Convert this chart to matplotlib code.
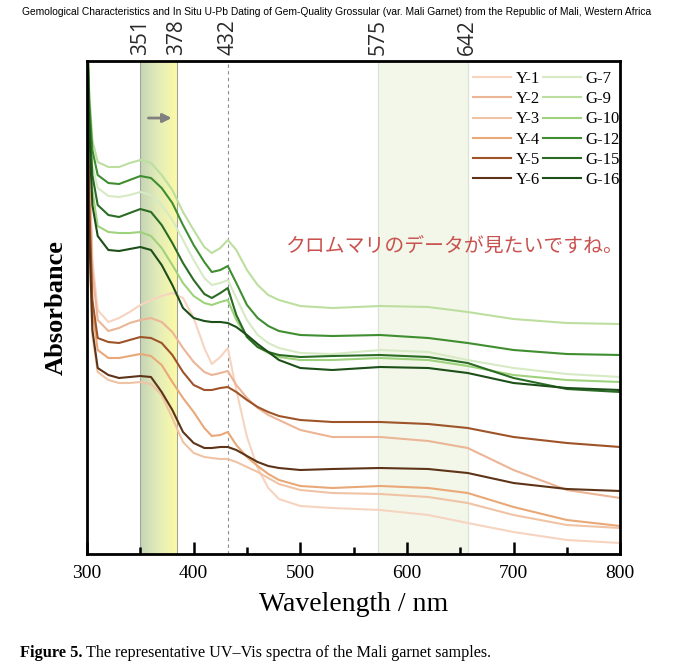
import numpy as np
import matplotlib
matplotlib.use("Agg")
import matplotlib.pyplot as plt
import matplotlib.transforms as mtransforms
from matplotlib.colors import LinearSegmentedColormap

# ---------------- data ----------------
wavelength = [300, 302, 305, 310, 320, 330, 340, 350, 360, 370, 380, 390, 400, 410, 417,
              425, 432, 440, 450, 460, 470, 480, 500, 530, 575, 620, 657, 700, 750, 800]

Y1 = [5.34, 4.04, 2.94, 2.44, 2.32, 2.36, 2.42, 2.49, 2.54, 2.58, 2.61, 2.56, 2.36, 2.06, 1.90,
      1.97, 2.06, 1.64, 1.17, 0.86, 0.66, 0.55, 0.48, 0.46, 0.44, 0.39, 0.31, 0.22, 0.14, 0.11]
Y2 = [5.34, 3.94, 2.84, 2.34, 2.23, 2.26, 2.31, 2.34, 2.36, 2.32, 2.22, 2.06, 1.92, 1.82, 1.79,
      1.81, 1.83, 1.69, 1.56, 1.46, 1.39, 1.34, 1.24, 1.17, 1.17, 1.13, 1.06, 0.84, 0.64, 0.56]
Y3 = [5.34, 3.19, 2.19, 1.82, 1.74, 1.71, 1.71, 1.72, 1.70, 1.59, 1.36, 1.12, 1.01, 0.97, 0.96,
      0.95, 0.95, 0.92, 0.87, 0.82, 0.76, 0.70, 0.64, 0.61, 0.60, 0.57, 0.51, 0.39, 0.29, 0.26]
Y4 = [5.34, 3.44, 2.44, 2.04, 1.96, 1.96, 1.98, 2.00, 1.98, 1.89, 1.72, 1.56, 1.42, 1.26, 1.18,
      1.19, 1.22, 1.09, 0.97, 0.88, 0.80, 0.74, 0.68, 0.66, 0.68, 0.66, 0.61, 0.47, 0.34, 0.28]
Y5 = [5.34, 3.54, 2.54, 2.16, 2.12, 2.11, 2.14, 2.17, 2.16, 2.11, 1.99, 1.82, 1.69, 1.64, 1.64,
      1.66, 1.67, 1.62, 1.54, 1.47, 1.42, 1.38, 1.34, 1.32, 1.32, 1.30, 1.26, 1.17, 1.11, 1.07]
Y6 = [5.34, 3.24, 2.24, 1.86, 1.79, 1.76, 1.77, 1.78, 1.77, 1.62, 1.44, 1.22, 1.11, 1.06, 1.06,
      1.07, 1.07, 1.04, 0.98, 0.92, 0.88, 0.86, 0.84, 0.85, 0.86, 0.85, 0.81, 0.71, 0.65, 0.63]

G7 = [5.34, 4.44, 3.89, 3.66, 3.58, 3.57, 3.59, 3.62, 3.59, 3.49, 3.34, 3.14, 2.94, 2.76, 2.69,
      2.71, 2.74, 2.56, 2.34, 2.19, 2.11, 2.06, 2.01, 2.00, 2.04, 2.02, 1.94, 1.86, 1.80, 1.77]
G9 = [5.34, 4.64, 4.14, 3.92, 3.87, 3.87, 3.91, 3.94, 3.91, 3.79, 3.64, 3.42, 3.24, 3.07, 3.01,
      3.06, 3.14, 3.04, 2.84, 2.69, 2.59, 2.54, 2.48, 2.46, 2.48, 2.47, 2.42, 2.35, 2.31, 2.30]
G10 = [5.34, 4.29, 3.64, 3.28, 3.22, 3.21, 3.21, 3.22, 3.18, 3.06, 2.89, 2.71, 2.58, 2.51, 2.49,
       2.52, 2.54, 2.34, 2.17, 2.07, 2.01, 1.97, 1.94, 1.94, 1.96, 1.94, 1.88, 1.79, 1.74, 1.72]
G12 = [5.34, 4.54, 4.04, 3.79, 3.71, 3.70, 3.74, 3.78, 3.76, 3.66, 3.51, 3.29, 3.09, 2.92, 2.82,
       2.84, 2.88, 2.71, 2.49, 2.36, 2.28, 2.23, 2.19, 2.18, 2.19, 2.16, 2.11, 2.04, 2.00, 1.99]
G15 = [5.34, 4.39, 3.79, 3.49, 3.39, 3.37, 3.41, 3.45, 3.42, 3.29, 3.11, 2.91, 2.74, 2.60, 2.56,
       2.61, 2.66, 2.39, 2.17, 2.07, 2.02, 1.99, 1.97, 1.98, 1.99, 1.97, 1.91, 1.76, 1.65, 1.62]
G16 = [5.34, 4.24, 3.49, 3.18, 3.04, 3.03, 3.05, 3.07, 3.04, 2.89, 2.69, 2.46, 2.36, 2.33, 2.32,
       2.32, 2.31, 2.27, 2.19, 2.10, 2.02, 1.94, 1.86, 1.84, 1.87, 1.86, 1.81, 1.71, 1.66, 1.64]

series_labels = ["Y-1", "Y-2", "Y-3", "Y-4", "Y-5", "Y-6",
                 "G-7", "G-9", "G-10", "G-12", "G-15", "G-16"]
series_values = [Y1, Y2, Y3, Y4, Y5, Y6, G7, G9, G10, G12, G15, G16]
series_colors = ["#f6d4c0", "#ebb596", "#f0c3a5", "#e9a877", "#9e5329", "#5d3418",
                 "#d6eac4", "#bcdf9f", "#9fd27c", "#3f8e30", "#2b6c24", "#1d4f18"]

band_uv = (350, 384)          # shaded gradient band
band_vis = (573, 657)         # light green band
marker_line = 432             # dashed line
top_ticks = [350, 384, 432, 573, 657]
top_labels = ["351", "378", "432", "575", "642"]
x_ticks = [300, 400, 500, 600, 700, 800]
x_minor = [350, 450, 550, 650, 750]
y_range = (0, 4.93)
note_text = "クロムマリのデータが見たいですね。"
title_text = ("Gemological Characteristics and In Situ U-Pb Dating of Gem-Quality Grossular "
              "(var. Mali Garnet) from the Republic of Mali, Western Africa")

# ---------------- figure ----------------
fig = plt.figure(figsize=(6.8, 6.72), dpi=100)
ax = fig.add_axes([0.128, 0.1756, 0.784, 0.7336])

serif = ["Liberation Serif", "DejaVu Serif"]

# gradient band
cmap = LinearSegmentedColormap.from_list("band", ["#c4d5b5", "#e4edb9", "#fcfaa6"])
ax.imshow(np.linspace(0, 1, 256).reshape(1, -1), cmap=cmap, aspect="auto",
          extent=[band_uv[0], band_uv[1], y_range[0], y_range[1]], zorder=0.5)
for xe in band_uv:
    ax.axvline(xe, color="#a0a49a", lw=0.8, zorder=0.6)
ax.axvspan(band_vis[0], band_vis[1], color="#f2f7ea", zorder=0.4, lw=0)
for xe in band_vis:
    ax.axvline(xe, color="#dde2d6", lw=0.9, zorder=0.6)
ax.axvline(marker_line, color="#8a8a8a", lw=0.8, ls=(0, (3, 3)), zorder=0.7)

handles = []
for lab, vals, col in zip(series_labels, series_values, series_colors):
    h, = ax.plot(wavelength, vals, color=col, lw=1.5, label=lab, zorder=2,
                 solid_joinstyle="round")
    handles.append(h)

ax.set_xlim(300, 800)
ax.set_ylim(*y_range)
ax.set_yticks([])
ax.set_xticks(x_ticks)
ax.set_xticks(x_minor, minor=True)
ax.tick_params(axis="x", which="major", direction="in", length=9, width=1.8, pad=8,
               labelsize=14)
ax.tick_params(axis="x", which="minor", direction="in", length=5, width=1.8)
for lab in ax.get_xticklabels():
    lab.set_family(serif)
for sp in ax.spines.values():
    sp.set_linewidth(2)

ax.set_xlabel("Wavelength / nm", fontsize=20, family=serif, labelpad=7)
ax.set_ylabel("Absorbance", fontsize=19, family=serif, fontweight="bold", labelpad=14)

# top labels
trans = mtransforms.blended_transform_factory(ax.transData, ax.transAxes)
for xt, lt in zip(top_ticks, top_labels):
    ax.text(xt, 1.012, lt, transform=trans, rotation=90, ha="center", va="bottom",
            fontsize=15, family=["Open Sans", "DejaVu Sans"], color="#2a2a2a")

# arrow
ax.annotate("", xy=(382, 4.36), xytext=(355, 4.36),
            arrowprops=dict(arrowstyle="-|>", color="#808080", lw=2, mutation_scale=13))

# Japanese note
ax.text(644, 3.08, note_text, ha="center", va="center", fontsize=14.3, color="#c9524f",
        family=["Noto Sans CJK JP", "DejaVu Sans"])

# legend
leg = ax.legend(handles=handles, ncol=2, frameon=False, loc="upper left",
                bbox_to_anchor=(473 / 680, 1 - 71 / 672), bbox_transform=fig.transFigure,
                borderpad=0, borderaxespad=0, handlelength=2.3, handletextpad=0.25,
                columnspacing=0.2, labelspacing=0.25, prop={"family": serif, "size": 12})

# title and caption
fig.text(0.495, 1 - 12 / 672, title_text, ha="center", va="center", fontsize=7.35,
         family=["Liberation Sans", "DejaVu Sans"])
t1 = fig.text(20 / 680, 1 - 653 / 672, "Figure 5.", ha="left", va="center",
              fontsize=11.8, fontweight="bold", family=serif)
fig.canvas.draw()
bb = t1.get_window_extent(renderer=fig.canvas.get_renderer())
fig.text((bb.x1 + 3) / fig.bbox.width, 1 - 653 / 672,
         "The representative UV\u2013Vis spectra of the Mali garnet samples.",
         ha="left", va="center", fontsize=11.6, family=serif)

fig.savefig("out.png", dpi=100)
